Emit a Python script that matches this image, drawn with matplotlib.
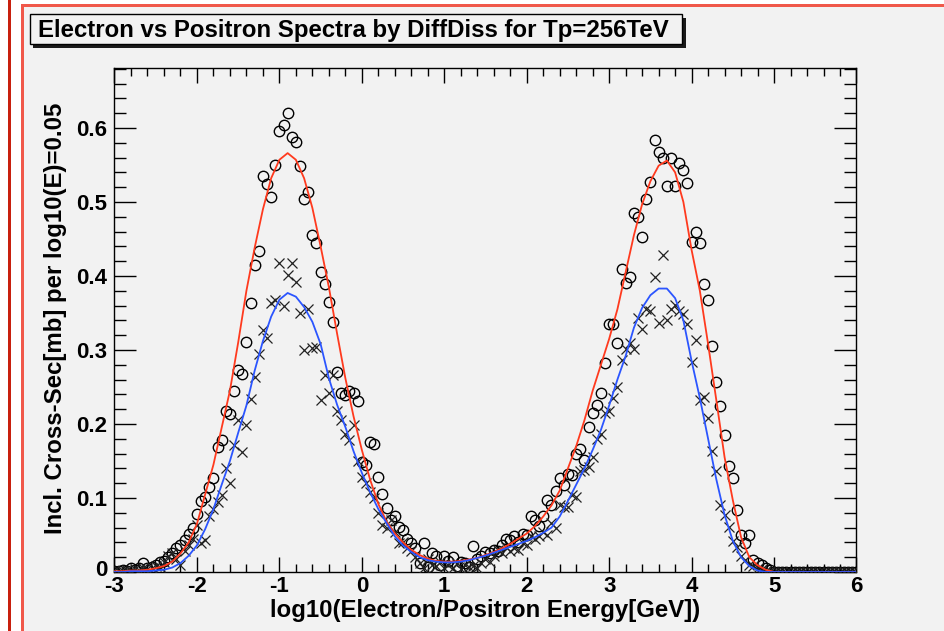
import numpy as np
import matplotlib
matplotlib.use("Agg")
import matplotlib.pyplot as plt
import matplotlib.transforms as mtransforms
from matplotlib.patches import Rectangle
from matplotlib.ticker import MultipleLocator

plt.rcParams['font.family'] = ['Liberation Sans', 'DejaVu Sans']
plt.rcParams['axes.unicode_minus'] = False

TITLE = "Electron vs Positron Spectra by DiffDiss for Tp=256TeV"
XLABEL = "log10(Electron/Positron Energy[GeV])"
YLABEL = "Incl. Cross-Sec[mb] per log10(E)=0.05"

# histogram bins: log10(E) from -3 to 6 in steps of 0.05
bin_start, bin_step = -3.0, 0.05

# open circles
circle_vals = [
    0.002, 0.001, 0.003, 0.002, 0.005, 0.003, 0.006, 0.012, 0.005, 0.007,   # -3.00 .. -2.55
    0.010, 0.013, 0.015, 0.020, 0.025, 0.032, 0.036, 0.043, 0.052, 0.060,   # -2.50 .. -2.05
    0.078, 0.096, 0.102, 0.115, 0.127, 0.169, 0.178, 0.217, 0.214, 0.244,   # -2.00 .. -1.55
    0.273, 0.268, 0.311, 0.364, 0.415, 0.434, 0.535, 0.524, 0.507, 0.550,   # -1.50 .. -1.05
    0.596, 0.604, 0.620, 0.588, 0.581, 0.548, 0.504, 0.513, 0.455, 0.444,   # -1.00 .. -0.55
    0.406, 0.389, 0.365, 0.338, 0.270, 0.242, 0.239, 0.244, 0.242, 0.231,   # -0.50 .. -0.05
    0.148, 0.145, 0.176, 0.173, 0.129, 0.106, 0.086, 0.070, 0.075, 0.061,   #  0.00 .. 0.45
    0.057, 0.045, 0.039, 0.032, 0.012, 0.039, 0.007, 0.025, 0.021, 0.010,   #  0.50 .. 0.95
    0.021, 0.015, 0.020, 0.008, 0.013, 0.012, 0.007, 0.035, 0.018, 0.022,   #  1.00 .. 1.45
    0.027, 0.025, 0.030, 0.028, 0.036, 0.045, 0.043, 0.048, 0.040, 0.052,   #  1.50 .. 1.95
    0.050, 0.075, 0.070, 0.062, 0.075, 0.097, 0.090, 0.109, 0.127, 0.118,   #  2.00 .. 2.45
    0.133, 0.131, 0.160, 0.166, 0.151, 0.196, 0.215, 0.226, 0.242, 0.283,   #  2.50 .. 2.95
    0.335, 0.335, 0.310, 0.409, 0.390, 0.399, 0.485, 0.479, 0.452, 0.504,   #  3.00 .. 3.45
    0.527, 0.584, 0.568, 0.559, 0.521, 0.560, 0.521, 0.552, 0.543, 0.526,   #  3.50 .. 3.95
    0.446, 0.460, 0.444, 0.389, 0.368, 0.305, 0.257, 0.224, 0.185, 0.143,   #  4.00 .. 4.45
    0.127, 0.084, 0.050, 0.039, 0.050, 0.016, 0.012, 0.009, 0.006, 0.003,   #  4.50 .. 4.95
    0.0, 0.0, 0.0, 0.0, 0.0, 0.0, 0.0, 0.0, 0.0, 0.0,                       #  5.00 .. 5.45
    0.0, 0.0, 0.0, 0.0, 0.0, 0.0, 0.0, 0.0, 0.0, 0.0,                       #  5.50 .. 5.95
    0.0,                                                                    #  6.00
]

# crosses
cross_vals = [
    0.001, 0.002, 0.001, 0.003, 0.002, 0.004, 0.003, 0.005, 0.004, 0.006,   # -3.00 .. -2.55
    0.008, 0.007, 0.014, 0.021, 0.025, 0.018, 0.010, 0.028, 0.037, 0.044,   # -2.50 .. -2.05
    0.064, 0.039, 0.043, 0.076, 0.085, 0.095, 0.104, 0.141, 0.120, 0.171,   # -2.00 .. -1.55
    0.205, 0.162, 0.198, 0.234, 0.264, 0.295, 0.327, 0.316, 0.363, 0.368,   # -1.50 .. -1.05
    0.417, 0.359, 0.401, 0.417, 0.392, 0.350, 0.300, 0.355, 0.302, 0.304,   # -1.00 .. -0.55
    0.232, 0.266, 0.242, 0.266, 0.217, 0.205, 0.187, 0.178, 0.199, 0.150,   # -0.50 .. -0.05
    0.129, 0.120, 0.108, 0.100, 0.080, 0.064, 0.059, 0.070, 0.054, 0.039,   #  0.00 .. 0.45
    0.040, 0.032, 0.028, 0.020, 0.012, 0.006, 0.018, 0.010, 0.008, 0.014,   #  0.50 .. 0.95
    0.005, 0.010, 0.006, 0.012, 0.004, 0.009, 0.007, 0.008, 0.006, 0.012,   #  1.00 .. 1.45
    0.018, 0.014, 0.022, 0.030, 0.025, 0.034, 0.028, 0.033, 0.030, 0.039,   #  1.50 .. 1.95
    0.036, 0.048, 0.044, 0.048, 0.054, 0.050, 0.066, 0.060, 0.090, 0.088,   #  2.00 .. 2.45
    0.088, 0.104, 0.102, 0.136, 0.138, 0.142, 0.155, 0.180, 0.187, 0.215,   #  2.50 .. 2.95
    0.217, 0.235, 0.250, 0.286, 0.301, 0.310, 0.301, 0.343, 0.329, 0.355,   #  3.00 .. 3.45
    0.352, 0.398, 0.336, 0.428, 0.340, 0.356, 0.361, 0.352, 0.349, 0.335,   #  3.50 .. 3.95
    0.284, 0.314, 0.232, 0.237, 0.208, 0.164, 0.136, 0.090, 0.077, 0.061,   #  4.00 .. 4.45
    0.042, 0.034, 0.022, 0.016, 0.010, 0.008, 0.006, 0.004, 0.002, 0.001,   #  4.50 .. 4.95
    0.0, 0.0, 0.0, 0.0, 0.0, 0.0, 0.0, 0.0, 0.0, 0.0,                       #  5.00 .. 5.45
    0.0, 0.0, 0.0, 0.0, 0.0, 0.0, 0.0, 0.0, 0.0, 0.0,                       #  5.50 .. 5.95
    0.0,                                                                    #  6.00
]

# fitted curves sampled every 0.1 in log10(E) from -3 to 6
curve_start, curve_step = -3.0, 0.1
red_curve = [
    0.001, 0.001, 0.002, 0.002, 0.003, 0.005, 0.008, 0.014, 0.025, 0.040,   # -3.0 .. -2.1
    0.065, 0.105, 0.145, 0.195, 0.245, 0.310, 0.380, 0.438, 0.490, 0.532,   # -2.0 .. -1.1
    0.557, 0.566, 0.557, 0.532, 0.492, 0.440, 0.385, 0.322, 0.262, 0.210,   # -1.0 .. -0.1
    0.165, 0.125, 0.092, 0.068, 0.052, 0.040, 0.030, 0.023, 0.018, 0.015,   #  0.0 .. 0.9
    0.014, 0.014, 0.015, 0.017, 0.019, 0.023, 0.027, 0.032, 0.038, 0.045,   #  1.0 .. 1.9
    0.052, 0.062, 0.075, 0.090, 0.110, 0.140, 0.170, 0.205, 0.245, 0.280,   #  2.0 .. 2.9
    0.315, 0.355, 0.405, 0.455, 0.497, 0.528, 0.549, 0.556, 0.540, 0.500,   #  3.0 .. 3.9
    0.435, 0.380, 0.308, 0.232, 0.155, 0.097, 0.047, 0.020, 0.009, 0.003,   #  4.0 .. 4.9
    0.0, 0.0, 0.0, 0.0, 0.0, 0.0, 0.0, 0.0, 0.0, 0.0, 0.0,                  #  5.0 .. 6.0
]
blue_curve = [
    0.000, 0.000, 0.001, 0.001, 0.001, 0.002, 0.003, 0.006, 0.012, 0.022,   # -3.0 .. -2.1
    0.036, 0.058, 0.085, 0.118, 0.150, 0.188, 0.225, 0.272, 0.312, 0.345,   # -2.0 .. -1.1
    0.368, 0.377, 0.372, 0.358, 0.338, 0.308, 0.262, 0.226, 0.196, 0.163,   # -1.0 .. -0.1
    0.134, 0.108, 0.085, 0.066, 0.048, 0.036, 0.027, 0.020, 0.016, 0.014,   #  0.0 .. 0.9
    0.013, 0.013, 0.014, 0.016, 0.019, 0.022, 0.026, 0.030, 0.034, 0.038,   #  1.0 .. 1.9
    0.042, 0.047, 0.053, 0.060, 0.075, 0.096, 0.118, 0.140, 0.165, 0.192,   #  2.0 .. 2.9
    0.225, 0.260, 0.292, 0.330, 0.357, 0.374, 0.383, 0.383, 0.370, 0.340,   #  3.0 .. 3.9
    0.285, 0.235, 0.180, 0.125, 0.077, 0.042, 0.020, 0.008, 0.002, 0.000,   #  4.0 .. 4.9
    0.0, 0.0, 0.0, 0.0, 0.0, 0.0, 0.0, 0.0, 0.0, 0.0, 0.0,                  #  5.0 .. 6.0
]

x_bins = bin_start + bin_step * np.arange(len(circle_vals))
x_curve = curve_start + curve_step * np.arange(len(red_curve))

W, H = 945, 631
BG = '#f2f2f2'
fig = plt.figure(figsize=(W / 100, H / 100), dpi=100)
fig.patch.set_facecolor(BG)

def fr(x0, y0, x1, y1):
    """pixel box (top-left origin) -> figure rect"""
    return (x0 / W, 1 - y1 / H, (x1 - x0) / W, (y1 - y0) / H)

def add_rect(x0, y0, x1, y1, color, z=0):
    l, b, w, h = fr(x0, y0, x1, y1)
    fig.add_artist(Rectangle((l, b), w, h, transform=fig.transFigure,
                             facecolor=color, edgecolor='none', zorder=z))

# page frame
add_rect(0, 0, 22, H, 'white')
add_rect(0, 0, W, 5, 'white')
add_rect(8, 0, 11, H, '#c8200e')
add_rect(21, 5, 24, H, '#f0584a')
add_rect(21, 4, W, 7, '#f0584a')

# axes
ax_l, ax_r, ax_t, ax_b = 114.5, 856.5, 68, 572
ax = fig.add_axes(fr(ax_l, ax_t, ax_r, ax_b))
ax.set_facecolor(BG)

ax.plot(x_bins, circle_vals, linestyle='none', marker='o', markersize=7.5,
        markerfacecolor='none', markeredgecolor='black', markeredgewidth=1.0, zorder=3)
ax.plot(x_bins, cross_vals, linestyle='none', marker='x', markersize=7.5,
        color='#222222', markeredgewidth=0.9, zorder=3)
ax.plot(x_curve, red_curve, color='#ff3a1e', linewidth=1.3, zorder=4)
ax.plot(x_curve, blue_curve, color='#2b55ff', linewidth=1.3, zorder=4)

ax.set_xlim(-3, 6)
ax.set_ylim(0, 0.681)
ax.xaxis.set_major_locator(MultipleLocator(1))
ax.xaxis.set_minor_locator(MultipleLocator(0.2))
ax.yaxis.set_major_locator(MultipleLocator(0.1))
ax.yaxis.set_minor_locator(MultipleLocator(0.02))
ax.yaxis.set_major_formatter(matplotlib.ticker.FuncFormatter(
    lambda v, p: '0' if abs(v) < 1e-9 else f'{v:.1f}'))

ax.tick_params(which='both', direction='in', top=True, right=True,
               width=1.0, colors='black')
ax.xaxis.set_tick_params(which='major', length=11, pad=3)
ax.xaxis.set_tick_params(which='minor', length=5.5)
ax.yaxis.set_tick_params(which='major', length=16, pad=5)
ax.yaxis.set_tick_params(which='minor', length=8.5)
for lab in ax.get_xticklabels() + ax.get_yticklabels():
    lab.set_fontweight('bold')
    lab.set_fontsize(16)
for s in ax.spines.values():
    s.set_linewidth(1.0)

# nudge the "0" y label up slightly so it does not collide with "-3"
fig.canvas.draw()
ylabels = ax.get_yticklabels()
shift = mtransforms.ScaledTranslation(0, 3.5 / 100, fig.dpi_scale_trans)
for lab in ylabels:
    if lab.get_text() == '0':
        lab.set_transform(lab.get_transform() + shift)

fig.text((ax_l + ax_r) / 2 / W, 1 - 611 / H, XLABEL, ha='center', va='center',
         fontsize=17.3, fontweight='bold')
fig.text(56 / W, 1 - 318 / H, YLABEL, ha='center', va='center', rotation=90,
         fontsize=17.3, fontweight='bold')

# title box with shadow
add_rect(33, 18, 686, 48, '#1a1a1a', z=5)
l, b, w, h = fr(30, 14, 682, 44)
fig.add_artist(Rectangle((l, b), w, h, transform=fig.transFigure,
                         facecolor=BG, edgecolor='black', linewidth=1.0, zorder=6))
fig.text(38 / W, 1 - 30 / H, TITLE, ha='left', va='center', fontsize=17.3,
         fontweight='bold', zorder=7)

fig.savefig('out.png', dpi=100, facecolor=fig.get_facecolor())
